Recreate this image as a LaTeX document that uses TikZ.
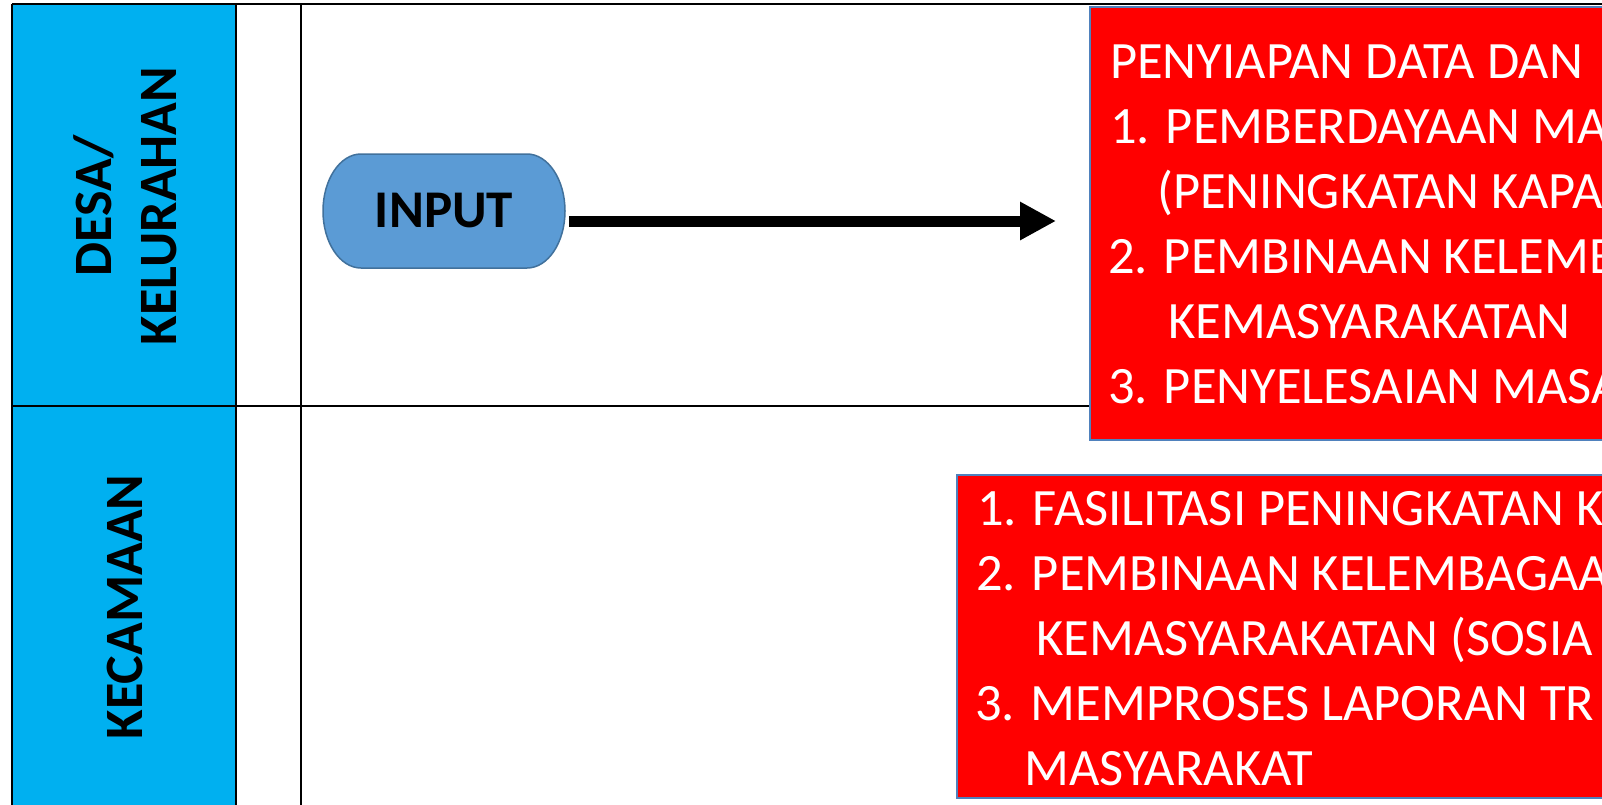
\documentclass[tikz,border=0pt]{standalone}
\usepackage{fontspec}
\setmainfont{Carlito}
\usetikzlibrary{arrows.meta}
\definecolor{lanecyan}{HTML}{00B0F0}
\definecolor{boxred}{HTML}{FF0000}
\definecolor{boxedge}{HTML}{4F81BD}
\definecolor{inputfill}{HTML}{5B9BD5}
\definecolor{inputedge}{HTML}{41719C}
\tikzset{
  gridline/.style={draw=black, line width=2pt},
  lanelabel/.style={rotate=90, align=center, inner sep=0pt, font=\fontsize{54}{65}\selectfont\bfseries},
  redbox/.style={fill=boxred, draw=boxedge, line width=2.5pt},
  boxtext/.style={anchor=base west, inner sep=0pt, text=white, font=\fontsize{52.5}{60}\selectfont},
  terminal/.style={minimum width=242pt, minimum height=114pt, inner sep=0pt, font=\fontsize{53}{60}\selectfont\bfseries},
  terminalshape/.style={fill=inputfill, draw=inputedge, line width=1.5pt},
  flowarrow/.style={line width=11pt, -{Triangle[length=36pt,width=36pt]}}
}
\begin{document}
\begin{tikzpicture}[x=1pt,y=-1pt]
\useasboundingbox (0,0) rectangle (1602,804);
\fill[white] (0,0) rectangle (1602,804);
% lane header column
\fill[lanecyan] (12,4) rectangle (236,830);
% table lines
\draw[gridline] (12,4) -- (1700,4);
\draw[gridline] (12,4) -- (12,830);
\draw[gridline] (236,4) -- (236,830);
\draw[gridline] (301,4) -- (301,830);
\draw[gridline] (12,406) -- (1100,406);
% lane labels
\node[lanelabel] (lane1) at (125,206) {DESA/\\KELURAHAN};
\node[lanelabel] (lane2) at (125,607) {KECAMAAN};
% input terminal
\path[terminalshape] (361,154) -- (527,154)
   arc[start angle=-90, end angle=90, x radius=38, y radius=57]
   -- (361,268)
   arc[start angle=90, end angle=270, x radius=38, y radius=57] -- cycle;
\node[terminal] (input) at (444,211) {INPUT};
\coordinate (tip) at (1056,221);
\path (input.east |- tip) ++(4,0) coordinate (astart);
\draw[flowarrow] (astart) -- (tip);
% red box 1
\draw[redbox] (1090,7) rectangle (1720,440);
\node[boxtext] (a0) at (1110,78) {PENYIAPAN DATA DAN};
\node[boxtext] (a1) at (1110,143) {1. PEMBERDAYAAN MA};
\node[boxtext] (a2) at (1157,208) {(PENINGKATAN KAPA};
\node[boxtext] (a3) at (1108,273) {2. PEMBINAAN KELEMB};
\node[boxtext] (a4) at (1168,338) {KEMASYARAKATAN};
\node[boxtext] (a5) at (1108,403) {3. PENYELESAIAN MASA};
% red box 2
\draw[redbox] (957,475) rectangle (1720,798);
\node[boxtext] (b1) at (977,525) {1. FASILITASI PENINGKATAN K};
\node[boxtext] (b2) at (976,590) {2. PEMBINAAN KELEMBAGAA};
\node[boxtext] (b3) at (1036,655) {KEMASYARAKATAN (SOSIA};
\node[boxtext] (b4) at (975,720) {3. MEMPROSES LAPORAN TR};
\node[boxtext] (b5) at (1024,785) {MASYARAKAT};
\end{tikzpicture}
\end{document}
